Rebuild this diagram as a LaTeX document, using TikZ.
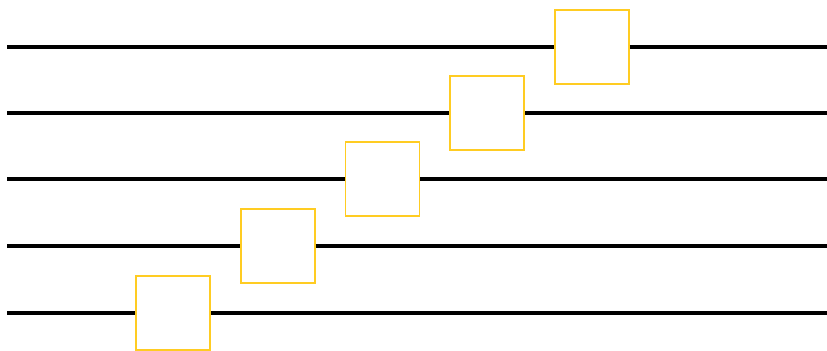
\documentclass[tikz,border=0pt]{standalone}
\usepackage{tikz}
\usetikzlibrary{positioning}
\definecolor{gatey}{RGB}{255,204,34}
\tikzset{
  wire/.style={black, line width=2pt},
  gbox/.style={draw=gatey, fill=white, line width=1.1pt, minimum size=1.48cm, inner sep=0pt},
}

\begin{document}
\begin{tikzpicture}[x=0.02cm, y=0.02cm]
  \useasboundingbox (0,0) rectangle (827,351);
  \foreach \i/\y in {0/38,1/105,2/172,3/238,4/304}{
    \coordinate (l\i) at (7, \y);
    \coordinate (r\i) at (827, \y);
    \node[gbox] (g\i) at (173+104.75*\i, \y) {};
    \draw[wire] (l\i) -- (g\i);
    \draw[wire] (g\i) -- (r\i);
  }
\end{tikzpicture}
\end{document}
